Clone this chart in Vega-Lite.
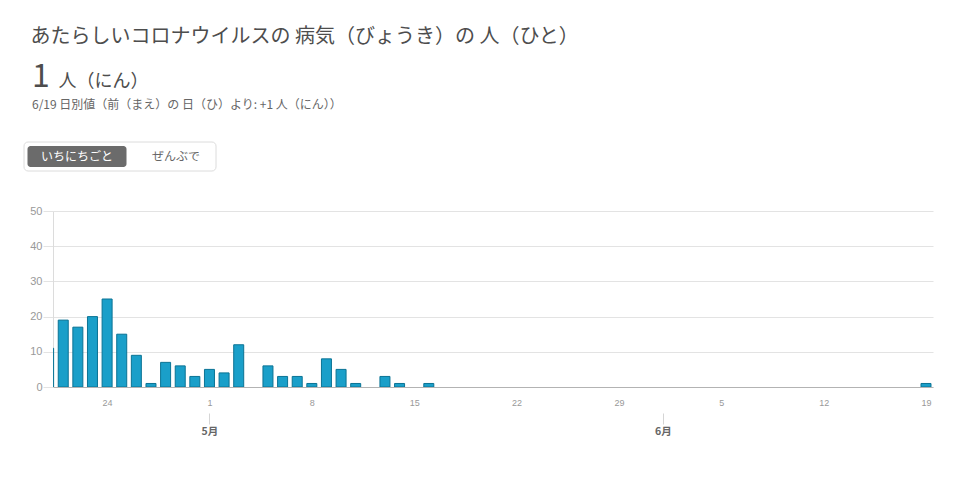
{
  "$schema": "https://vega.github.io/schema/vega-lite/v6.json",
  "background": "white",
  "padding": {"left": 23, "top": 27, "right": 10, "bottom": 10},
  "title": {
    "text": "あたらしいコロナウイルスの 病気（びょうき）の 人（ひと）",
    "anchor": "start",
    "font": "Noto Sans CJK JP",
    "fontSize": 20,
    "fontWeight": "normal",
    "color": "#4d4d4d",
    "dx": 7,
    "offset": 10
  },
  "datasets": {
    "daily": [
      {"date": "2020-04-20", "count": 11},
      {"date": "2020-04-21", "count": 19},
      {"date": "2020-04-22", "count": 17},
      {"date": "2020-04-23", "count": 20},
      {"date": "2020-04-24", "count": 25},
      {"date": "2020-04-25", "count": 15},
      {"date": "2020-04-26", "count": 9},
      {"date": "2020-04-27", "count": 1},
      {"date": "2020-04-28", "count": 7},
      {"date": "2020-04-29", "count": 6},
      {"date": "2020-04-30", "count": 3},
      {"date": "2020-05-01", "count": 5},
      {"date": "2020-05-02", "count": 4},
      {"date": "2020-05-03", "count": 12},
      {"date": "2020-05-04", "count": 0},
      {"date": "2020-05-05", "count": 6},
      {"date": "2020-05-06", "count": 3},
      {"date": "2020-05-07", "count": 3},
      {"date": "2020-05-08", "count": 1},
      {"date": "2020-05-09", "count": 8},
      {"date": "2020-05-10", "count": 5},
      {"date": "2020-05-11", "count": 1},
      {"date": "2020-05-12", "count": 0},
      {"date": "2020-05-13", "count": 3},
      {"date": "2020-05-14", "count": 1},
      {"date": "2020-05-15", "count": 0},
      {"date": "2020-05-16", "count": 1},
      {"date": "2020-05-17", "count": 0},
      {"date": "2020-05-18", "count": 0},
      {"date": "2020-05-19", "count": 0},
      {"date": "2020-05-20", "count": 0},
      {"date": "2020-05-21", "count": 0},
      {"date": "2020-05-22", "count": 0},
      {"date": "2020-05-23", "count": 0},
      {"date": "2020-05-24", "count": 0},
      {"date": "2020-05-25", "count": 0},
      {"date": "2020-05-26", "count": 0},
      {"date": "2020-05-27", "count": 0},
      {"date": "2020-05-28", "count": 0},
      {"date": "2020-05-29", "count": 0},
      {"date": "2020-05-30", "count": 0},
      {"date": "2020-05-31", "count": 0},
      {"date": "2020-06-01", "count": 0},
      {"date": "2020-06-02", "count": 0},
      {"date": "2020-06-03", "count": 0},
      {"date": "2020-06-04", "count": 0},
      {"date": "2020-06-05", "count": 0},
      {"date": "2020-06-06", "count": 0},
      {"date": "2020-06-07", "count": 0},
      {"date": "2020-06-08", "count": 0},
      {"date": "2020-06-09", "count": 0},
      {"date": "2020-06-10", "count": 0},
      {"date": "2020-06-11", "count": 0},
      {"date": "2020-06-12", "count": 0},
      {"date": "2020-06-13", "count": 0},
      {"date": "2020-06-14", "count": 0},
      {"date": "2020-06-15", "count": 0},
      {"date": "2020-06-16", "count": 0},
      {"date": "2020-06-17", "count": 0},
      {"date": "2020-06-18", "count": 0},
      {"date": "2020-06-19", "count": 1}
    ]
  },
  "columns": 1,
  "align": "none",
  "spacing": 30,
  "concat": [
    {
      "data": {"name": "daily"},
      "transform": [{"filter": "utcmonth(toDate(datum.date)) == 5 && utcdate(toDate(datum.date)) == 19"}],
      "width": 10,
      "height": 30,
      "view": {"stroke": null},
      "title": {
        "text": "6/19 日別値（前（まえ）の 日（ひ）より: +1 人（にん））",
        "orient": "bottom",
        "anchor": "start",
        "font": "Noto Sans CJK JP",
        "fontSize": 12,
        "fontWeight": "normal",
        "color": "#666666",
        "dx": 0,
        "offset": 7
      },
      "layer": [
        {
          "mark": {"type": "text", "align": "left", "baseline": "alphabetic", "dx": -26, "dy": 15, "fontSize": 32, "fontWeight": "normal", "font": "Noto Sans CJK JP", "color": "#4d4d4d"},
          "encoding": {"text": {"field": "count", "type": "quantitative"}}
        },
        {
          "mark": {"type": "text", "align": "left", "baseline": "alphabetic", "dx": 0.5, "dy": 15, "fontSize": 18, "fontWeight": "normal", "font": "Noto Sans CJK JP", "color": "#4d4d4d"},
          "encoding": {"text": {"value": "人（にん）"}}
        }
      ]
    },
    {
      "data": {"values": [
        {"label": "いちにちごと", "selected": true},
        {"label": "ぜんぶで", "selected": false}
      ]},
      "width": 192,
      "height": 33,
      "view": {"stroke": null},
      "layer": [
        {
          "transform": [{"filter": "datum.selected"}],
          "mark": {"type": "rect", "fill": "white", "stroke": "#dcdcdc", "strokeWidth": 1, "cornerRadius": 4},
          "encoding": {
            "x": {"datum": "box", "type": "nominal", "axis": null,
                  "scale": {"type": "band", "range": [-29, 163], "paddingInner": 0, "paddingOuter": 0}},
            "y": {"datum": "box", "type": "nominal", "axis": null,
                  "scale": {"type": "band", "range": [0, 29], "paddingInner": 0, "paddingOuter": 0}}
          }
        },
        {
          "transform": [{"filter": "datum.selected"}],
          "mark": {"type": "rect", "cornerRadius": 3, "fill": "#6b6b6b"},
          "encoding": {
            "x": {"field": "label", "type": "nominal", "axis": null,
                  "scale": {"type": "band", "domain": ["いちにちごと", "ぜんぶで"], "range": [-25.5, 172.5], "paddingInner": 0, "paddingOuter": 0}},
            "y": {"datum": "button", "type": "nominal", "axis": null,
                  "scale": {"type": "band", "range": [4, 25], "paddingInner": 0, "paddingOuter": 0}}
          }
        },
        {
          "mark": {"type": "text", "fontSize": 12, "font": "Noto Sans CJK JP"},
          "encoding": {
            "x": {"field": "label", "type": "nominal", "axis": null,
                  "scale": {"type": "band", "domain": ["いちにちごと", "ぜんぶで"], "range": [-25.5, 172.5], "paddingInner": 0, "paddingOuter": 0}},
            "y": {"datum": "button", "type": "nominal", "axis": null,
                  "scale": {"type": "band", "range": [4, 25], "paddingInner": 0, "paddingOuter": 0}},
            "text": {"field": "label"},
            "color": {"condition": {"test": "datum.selected", "value": "#ffffff"}, "value": "#666666"}
          }
        }
      ],
      "resolve": {"scale": {"x": "independent", "y": "independent"}}
    },
    {
      "data": {"name": "daily"},
      "width": 880,
      "height": 176,
      "view": {"stroke": null},
      "layer": [
        {
          "mark": {"type": "bar", "size": 10, "fill": "#1a9fc9", "stroke": "#0b7394", "strokeWidth": 1, "clip": true},
          "encoding": {
            "x": {
              "field": "date", "type": "temporal",
              "scale": {"type": "utc", "nice": false, "padding": 0, "domain": [
                {"year": 2020, "month": 4, "date": 20, "hours": 7, "minutes": 12, "utc": true},
                {"year": 2020, "month": 6, "date": 19, "hours": 11, "minutes": 30, "utc": true}
              ]},
              "axis": {
                "values": [
                  {"year": 2020, "month": 4, "date": 24, "utc": true},
                  {"year": 2020, "month": 5, "date": 1, "utc": true},
                  {"year": 2020, "month": 5, "date": 8, "utc": true},
                  {"year": 2020, "month": 5, "date": 15, "utc": true},
                  {"year": 2020, "month": 5, "date": 22, "utc": true},
                  {"year": 2020, "month": 5, "date": 29, "utc": true},
                  {"year": 2020, "month": 6, "date": 5, "utc": true},
                  {"year": 2020, "month": 6, "date": 12, "utc": true},
                  {"year": 2020, "month": 6, "date": 19, "utc": true}
                ],
                "labelExpr": "utcdate(datum.value)",
                "ticks": false,
                "grid": false,
                "domainColor": "#b3b3b3",
                "labelColor": "#999999",
                "labelFont": "Liberation Sans",
                "labelFontSize": 9,
                "labelPadding": 11,
                "labelFlush": false,
                "labelOverlap": false,
                "title": null,
                "zindex": 1
              }
            },
            "y": {
              "field": "count", "type": "quantitative",
              "scale": {"domain": [0, 50]},
              "axis": {
                "values": [0, 10, 20, 30, 40, 50],
                "tickSize": 10,
                "tickColor": "#e3e3e3",
                "gridColor": "#e3e3e3",
                "domainColor": "#dcdcdc",
                "labelColor": "#999999",
                "labelFont": "Liberation Sans",
                "labelFontSize": 11,
                "labelPadding": 1,
                "title": null,
                "minExtent": 29.5,
                "maxExtent": 29.5
              }
            },
            "strokeOpacity": {"condition": {"test": "datum.count == 0", "value": 0}, "value": 1}
          }
        },
        {
          "mark": {"type": "point", "opacity": 0},
          "encoding": {
            "x": {
              "field": "date", "type": "temporal",
              "scale": {"type": "utc", "nice": false, "padding": 0, "domain": [
                {"year": 2020, "month": 4, "date": 20, "hours": 7, "minutes": 12, "utc": true},
                {"year": 2020, "month": 6, "date": 19, "hours": 11, "minutes": 30, "utc": true}
              ]},
              "axis": {
                "orient": "bottom",
                "offset": 26,
                "values": [
                  {"year": 2020, "month": 5, "date": 1, "utc": true},
                  {"year": 2020, "month": 6, "date": 1, "utc": true}
                ],
                "labelExpr": "(utcmonth(datum.value) + 1) + '月'",
                "domain": false,
                "grid": false,
                "tickSize": 11,
                "tickColor": "#d5d5d5",
                "labelPadding": 2,
                "labelFont": "Noto Sans CJK JP",
                "labelFontSize": 10.5,
                "labelFontWeight": "bold",
                "labelColor": "#666666",
                "labelFlush": false,
                "title": null
              }
            }
          }
        }
      ],
      "resolve": {"axis": {"x": "independent"}}
    }
  ]
}
